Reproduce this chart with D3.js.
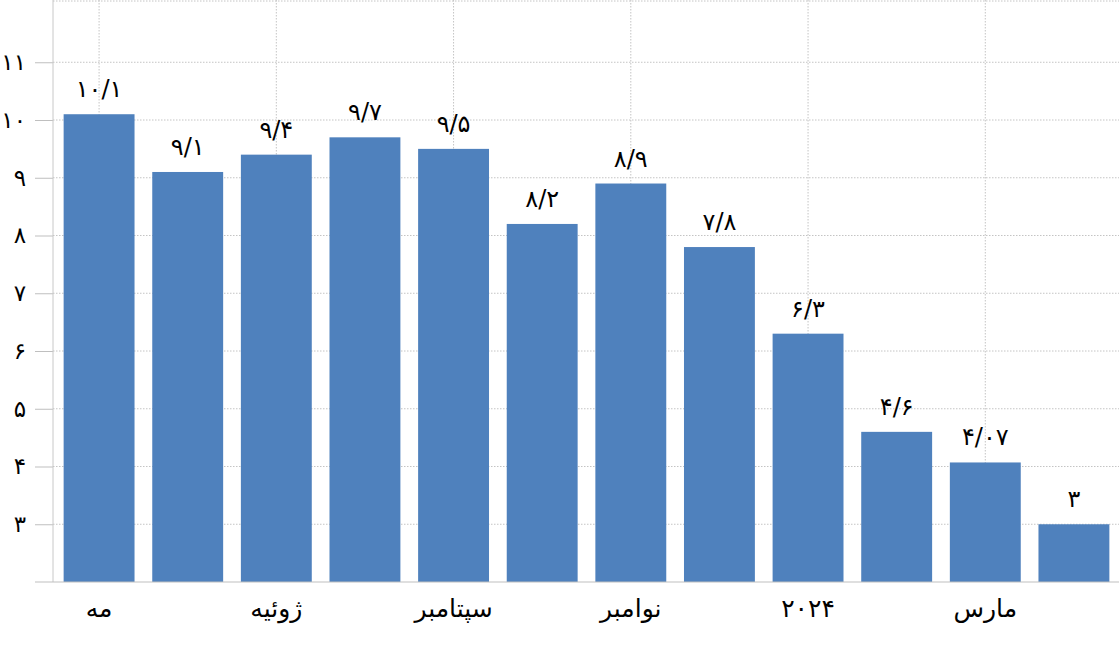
<!DOCTYPE html>
<html><head><meta charset="utf-8">
<script src="https://cdn.jsdelivr.net/npm/d3@7/dist/d3.min.js"></script>
<style>
html,body{margin:0;padding:0;background:#fff;}
text{font-family:"DejaVu Sans","Noto Sans",sans-serif;fill:#000;}
</style></head>
<body>
<svg id="chart" width="1119" height="645"></svg>
<script>
const categories = ["c1","c2","c3","c4","c5","c6","c7","c8","c9","c10","c11","c12"];
const values = [10.1, 9.1, 9.4, 9.7, 9.5, 8.2, 8.9, 7.8, 6.3, 4.6, 4.07, 3];
const valueLabels = ["۱۰/۱","۹/۱","۹/۴","۹/۷","۹/۵","۸/۲","۸/۹","۷/۸","۶/۳","۴/۶","۴/۰۷","۳"];
const xTickLabels = ["مه","","ژوئیه","","سپتامبر","","نوامبر","","۲۰۲۴","","مارس",""];
const yTicks = [3,4,5,6,7,8,9,10,11];
const yTickLabels = ["۳","۴","۵","۶","۷","۸","۹","۱۰","۱۱"];

(function () {
const svg = d3.select("#chart");
const W = 1119;
const mLeft = 53, mRight = 1120, mBottom = 582, mTop = 4.5;

const x = d3.scaleBand().domain(categories).range([mLeft, mRight]).paddingInner(0.2).paddingOuter(0.12);
const y = d3.scaleLinear().domain([2, 12]).range([mBottom, mTop]);

const grid = svg.append("g");
grid.selectAll("line.h").data(yTicks).enter().append("line")
  .attr("x1", mLeft).attr("x2", W)
  .attr("y1", d => y(d)).attr("y2", d => y(d))
  .attr("stroke", "#c4c4c4").attr("stroke-width", 1).attr("stroke-dasharray", "1.5,1.5");
grid.append("line").attr("x1", mLeft).attr("x2", W).attr("y1", 1).attr("y2", 1)
  .attr("stroke", "#c4c4c4").attr("stroke-dasharray", "1.5,1.5");
const labelled = categories.filter((c, i) => xTickLabels[i] !== "");
grid.selectAll("line.v").data(labelled).enter().append("line")
  .attr("x1", d => x(d) + x.bandwidth() / 2).attr("x2", d => x(d) + x.bandwidth() / 2)
  .attr("y1", 0).attr("y2", mBottom)
  .attr("stroke", "#c4c4c4").attr("stroke-width", 1).attr("stroke-dasharray", "1.5,1.5");

const yAxis = d3.axisLeft(y).tickValues(yTicks).tickSize(18).tickPadding(9)
  .tickFormat((d, i) => yTickLabels[i]);
const yg = svg.append("g").attr("transform", `translate(${mLeft},0)`).call(yAxis);
yg.select(".domain").remove();
yg.selectAll(".tick line").attr("stroke", "#bfbfbf");
yg.selectAll(".tick text").style("font-size", "23px").attr("fill", "#000");
svg.append("line").attr("x1", mLeft).attr("x2", mLeft).attr("y1", 0).attr("y2", mBottom)
  .attr("stroke", "#c8c8c8");

svg.append("g").selectAll("rect").data(values).enter().append("rect")
  .attr("x", (d, i) => x(categories[i]))
  .attr("width", x.bandwidth())
  .attr("y", d => y(d))
  .attr("height", d => y(2) - y(d))
  .attr("fill", "#4f81bd");

svg.append("line").attr("x1", 35).attr("x2", W).attr("y1", mBottom).attr("y2", mBottom)
  .attr("stroke", "#bfbfbf");

const xAxis = d3.axisBottom(x).tickSize(0).tickPadding(17).tickFormat((d, i) => xTickLabels[i]);
const xg = svg.append("g").attr("transform", `translate(0,${mBottom})`).call(xAxis);
xg.select(".domain").remove();
xg.selectAll(".tick text").style("font-size", "25px").attr("fill", "#000");

svg.append("g").selectAll("text").data(values).enter().append("text")
  .attr("x", (d, i) => x(categories[i]) + x.bandwidth() / 2)
  .attr("y", d => y(d) - 17)
  .attr("text-anchor", "middle")
  .style("font-size", "24px")
  .text((d, i) => valueLabels[i]);
})();
</script>
</body></html>
